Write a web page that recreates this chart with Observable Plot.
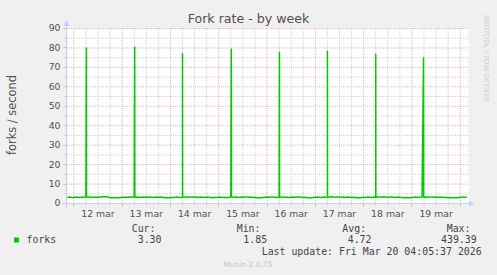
<!DOCTYPE html>
<html><head><meta charset="utf-8">
<script src="https://cdn.jsdelivr.net/npm/d3@7"></script>
<script src="https://cdn.jsdelivr.net/npm/@observablehq/plot@0.6"></script>
<style>
html,body{margin:0;padding:0;background:#f0f0f0;}
#chart{width:497px;height:275px;}
svg{display:block;}
</style></head><body><div id="chart"></div>
<script>
const title = "Fork rate - by week";
const yLabel = "forks / second";
const yTicks = [0, 10, 20, 30, 40, 50, 60, 70, 80, 90];
const yMinor = [5, 15, 25, 35, 45, 55, 65, 75, 85];
const dayLabels = ["12 mar", "13 mar", "14 mar", "15 mar", "16 mar", "17 mar", "18 mar", "19 mar"];
const dayDates = ["2026-03-12", "2026-03-13", "2026-03-14", "2026-03-15", "2026-03-16", "2026-03-17", "2026-03-18", "2026-03-19", "2026-03-20"];
const rangeStart = "2026-03-11T20:52:00Z";
const rangeEnd = "2026-03-20T04:05:37Z";
const baseStart = "2026-03-11T21:00:00Z"; // hourly samples from here

const mar11 = [3.2, 3.3, 3.1];
const mar12 = [3.1,3.3,3.2,3.1,3.3,3.2,3.3,3.2,3.4,3.1,3.3,3.2,3.2,3.4,3.3,3.6,3.5,3.4,3.0,2.9,2.9,3.0,2.9,3.0];
const mar13 = [3.2,3.3,3.1,3.3,3.2,3.4,3.3,3.2,3.3,3.1,3.3,3.2,3.4,3.2,3.3,3.1,3.2,3.3,3.2,3.4,3.2,3.0,3.1,2.9];
const mar14 = [3.0,3.2,3.1,3.3,3.2,3.1,3.2,3.4,3.3,3.2,3.4,3.3,3.2,3.3,3.1,3.3,3.2,3.1,3.3,3.2,3.1,3.0,3.2,3.1];
const mar15 = [3.2,3.3,3.1,3.2,3.0,3.2,3.3,3.4,3.2,3.3,3.1,3.3,3.2,3.4,3.3,3.2,3.3,3.1,3.2,3.0,2.9,3.0,3.1,3.2];
const mar16 = [3.3,3.2,3.4,3.3,3.2,3.1,3.3,3.4,3.2,3.3,3.2,3.1,3.2,3.3,3.2,3.4,3.3,3.2,3.1,3.2,3.0,2.9,3.0,3.1];
const mar17 = [3.2,3.3,3.2,3.1,3.3,3.2,3.4,3.3,3.5,3.3,3.2,3.3,3.4,3.2,3.3,3.1,3.3,3.2,3.1,3.2,3.0,3.1,3.0,3.1];
const mar18 = [3.2,3.1,3.3,3.2,3.1,3.3,3.2,3.4,3.3,3.2,3.5,3.3,3.2,3.4,3.3,3.2,3.1,3.3,3.2,3.1,3.0,3.1,2.9,3.0];
const mar19 = [3.1,3.2,3.3,3.1,3.2,3.3,3.2,3.3,3.2,3.4,3.3,3.2,3.3,3.1,3.3,3.2,3.1,3.2,3.0,3.1,3.0,2.9,3.1,3.0];
const mar20 = [3.2, 3.4, 3.1, 3.3];

const spikeTimes = ["2026-03-12T06:15:00Z", "2026-03-13T06:15:00Z", "2026-03-14T06:00:00Z", "2026-03-15T06:15:00Z", "2026-03-16T06:10:00Z", "2026-03-17T06:00:00Z", "2026-03-18T06:00:00Z", "2026-03-19T05:45:00Z"];
const spikePeaks = [80.0, 80.4, 77.0, 79.3, 77.8, 78.3, 76.8, 75.0];
const spikeAfter = [3.3, 3.2, 3.3, 3.3, 3.2, 3.3, 3.2, 3.3];

const seriesName = "forks";
const legendHeads = ["Cur:", "Min:", "Avg:", "Max:"];
const legendValues = ["3.30", "1.85", "4.72", "439.39"];
const lastUpdate = "Last update: Fri Mar 20 04:05:37 2026";
const credit = "Munin 2.0.75";
const vendor = "RRDTOOL / TOBI OETIKER";

const lineColor = "#00cc00";
const textColor = "#505050";

// build series
const baseline = [...mar11, ...mar12, ...mar13, ...mar14, ...mar15, ...mar16, ...mar17, ...mar18, ...mar19, ...mar20];
const t0 = +new Date(baseStart);
const pts = baseline.map((v, i) => ({t: new Date(t0 + i * 3600e3), v}));
spikeTimes.forEach((s, i) => {
  const t = new Date(s);
  pts.push({t, v: spikePeaks[i]});
  pts.push({t: new Date(+t + 4 * 60e3), v: spikeAfter[i]});
});
pts.sort((a, b) => a.t - b.t);

const x0 = new Date(rangeStart), x1 = new Date(rangeEnd);
const midnights = dayDates.map(d => new Date(d + "T00:00:00Z"));
const noons = dayDates.slice(0, dayLabels.length).map(d => new Date(d + "T12:00:00Z"));
const sixHours = d3.utcHour.every(6).range(x0, x1).filter(d => d.getUTCHours() !== 0);

const majorColor = "#eeb0b0";
const minorColor = "#cfcfcf";

const plot = Plot.plot({
  width: 497, height: 275,
  marginLeft: 67, marginRight: 29, marginTop: 28, marginBottom: 72,
  style: {background: "#f0f0f0", fontFamily: "DejaVu Sans", overflow: "visible"},
  x: {type: "utc", domain: [x0, x1], axis: null},
  y: {domain: [0, 90], axis: null},
  marks: [
    Plot.frame({fill: "white", stroke: null}),
    Plot.ruleY(yMinor, {stroke: minorColor, strokeDasharray: "1,1"}),
    Plot.ruleX(sixHours, {stroke: minorColor, strokeDasharray: "1,1"}),
    Plot.ruleY(yTicks.filter(v => v > 0), {stroke: majorColor, strokeDasharray: "1,1"}),
    Plot.ruleX(midnights, {stroke: majorColor, strokeDasharray: "1,1"}),
    Plot.line(pts, {x: "t", y: "v", stroke: lineColor, strokeWidth: 1.5}),
    Plot.text(yTicks, {y: d => d, text: d => String(d), frameAnchor: "left", textAnchor: "end", dx: -7, fontSize: 9.3, fill: textColor}),
    Plot.text(dayLabels, {x: (d, i) => noons[i], text: d => d, frameAnchor: "bottom", lineAnchor: "top", dy: 6.5, fontSize: 9.3, fill: textColor})
  ]
});
document.getElementById("chart").appendChild(plot);

const svg = d3.select(plot);
const X = plot.scale("x").apply, Y = plot.scale("y").apply;
const axisColor = "#c8ccff";
const yb = Math.round(Y(0)) + 0.5;
const xl = Math.round(X(x0)) - 0.5;
const xr = Math.round(X(x1));
const g = svg.append("g");
// ticks
midnights.forEach(d => { const px = Math.round(X(d)) + 0.5; g.append("line").attr("x1", px).attr("x2", px).attr("y1", yb).attr("y2", yb + 3).attr("stroke", majorColor); });
sixHours.forEach(d => { const px = Math.round(X(d)) + 0.5; g.append("line").attr("x1", px).attr("x2", px).attr("y1", yb).attr("y2", yb + 2).attr("stroke", minorColor); });
yTicks.forEach(v => { const py = Math.round(Y(v)) + 0.5; g.append("line").attr("x1", xl - 3).attr("x2", xl).attr("y1", py).attr("y2", py).attr("stroke", majorColor); });
yMinor.forEach(v => { const py = Math.round(Y(v)) + 0.5; g.append("line").attr("x1", xl - 2).attr("x2", xl).attr("y1", py).attr("y2", py).attr("stroke", minorColor); });
// axes with arrows
g.append("line").attr("x1", xl - 4).attr("x2", xr + 2).attr("y1", yb).attr("y2", yb).attr("stroke", axisColor);
g.append("path").attr("d", `M${xr + 1},${yb - 3}L${xr + 6},${yb}L${xr + 1},${yb + 3}Z`).attr("fill", axisColor);
g.append("line").attr("x1", xl).attr("x2", xl).attr("y1", yb + 4).attr("y2", Y(90) - 4).attr("stroke", axisColor);
g.append("path").attr("d", `M${xl - 3},${Y(90) - 2}L${xl},${Y(90) - 8}L${xl + 3},${Y(90) - 2}Z`).attr("fill", axisColor);

// title and labels
svg.append("text").attr("x", 248.5).attr("y", 22.5).attr("text-anchor", "middle")
  .attr("font-family", "DejaVu Sans").attr("font-size", 12.6).attr("fill", textColor).text(title);
svg.append("text").attr("transform", "translate(15.5,115) rotate(-90)").attr("text-anchor", "middle")
  .attr("font-family", "DejaVu Sans").attr("font-size", 11.4).attr("fill", textColor).text(yLabel);
svg.append("text").attr("transform", "translate(484,15) rotate(90)").attr("text-anchor", "start")
  .attr("font-family", "DejaVu Sans").attr("font-size", 6.8).attr("fill", "#cccccc").text(vendor);

// legend
const mono = "DejaVu Sans Mono";
const lg = svg.append("g").attr("font-family", mono).attr("font-size", 9.9).attr("fill", "#444").attr("text-anchor", "start");
lg.append("rect").attr("x", 14).attr("y", 237.5).attr("width", 5).attr("height", 5).attr("fill", lineColor);
lg.append("text").attr("x", 26.5).attr("y", 243).text(seriesName);
const headX = [131.7, 236.7, 342.3, 446.7];
const valX = [137.7, 243.3, 347.7, 441];
legendHeads.forEach((h, i) => lg.append("text").attr("x", headX[i]).attr("y", 231.5).text(h));
legendValues.forEach((v, i) => lg.append("text").attr("x", valX[i]).attr("y", 243).text(v));
lg.append("text").attr("x", 261.7).attr("y", 254.5).text(lastUpdate);
svg.append("text").attr("x", 223.3).attr("y", 267.3).attr("text-anchor", "start").attr("font-family", "DejaVu Sans").attr("font-size", 7.5)
  .attr("fill", "#c4c4c4").text(credit);
</script></body></html>
